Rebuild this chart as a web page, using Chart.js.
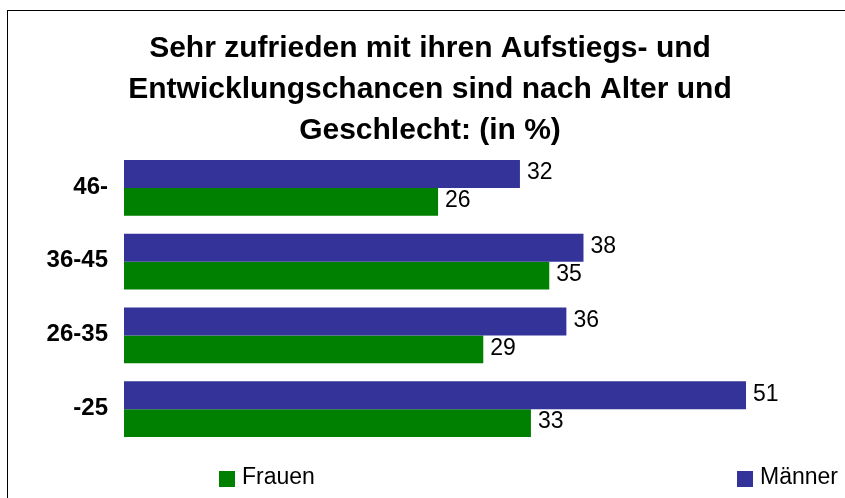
<!DOCTYPE html>
<html>
<head>
<meta charset="utf-8">
<script src="https://cdn.jsdelivr.net/npm/chart.js@4"></script>
<style>
  html, body { margin: 0; padding: 0; background: #fff; }
  #wrap { width: 845px; height: 498px; }
</style>
</head>
<body>
<div id="wrap"><canvas id="c" width="845" height="498"></canvas></div>
<script>
const ageGroups = ['46-', '36-45', '26-35', '-25'];
const maenner = [32.4, 37.6, 36.2, 50.9];
const frauen = [25.7, 34.8, 29.4, 33.3];
const titleLines = ['Sehr zufrieden mit ihren Aufstiegs- und', 'Entwicklungschancen sind nach Alter und', 'Geschlecht: (in %)'];

const FONT = "'Liberation Sans', Arial, Helvetica, sans-serif";

// frame, value labels and the wide legend at the bottom
const extras = {
    id: 'extras',
    beforeDraw(chart) {
        const ctx = chart.ctx;
        ctx.save();
        ctx.strokeStyle = '#000';
        ctx.lineWidth = 1;
        ctx.strokeRect(7.5, 10.5, 900, 600);
        ctx.restore();
    },
    afterDatasetsDraw(chart) {
        const ctx = chart.ctx;
        ctx.save();
        ctx.font = '23px ' + FONT;
        ctx.fillStyle = '#000';
        ctx.textBaseline = 'middle';
        ctx.textAlign = 'left';
        chart.data.datasets.forEach((ds, i) => {
            chart.getDatasetMeta(i).data.forEach((bar, j) => {
                ctx.fillText(Math.round(ds.data[j]).toString(), bar.x + 7, bar.y - 1);
            });
        });

        // legend: Frauen left, Männer right
        const items = [
            { label: chart.data.datasets[1].label, color: chart.data.datasets[1].backgroundColor, x: 219 },
            { label: chart.data.datasets[0].label, color: chart.data.datasets[0].backgroundColor, x: 737 }
        ];
        items.forEach(it => {
            ctx.fillStyle = it.color;
            ctx.fillRect(it.x, 471, 16, 16);
            ctx.fillStyle = '#000';
            ctx.fillText(it.label, it.x + 23, 478);
        });
        ctx.restore();
    }
};

new Chart(document.getElementById('c'), {
    type: 'bar',
    data: {
        labels: ageGroups,
        datasets: [
            { label: 'Männer', data: maenner, backgroundColor: '#333399' },
            { label: 'Frauen', data: frauen, backgroundColor: '#008000' }
        ]
    },
    options: {
        indexAxis: 'y',
        responsive: false,
        animation: false,
        categoryPercentage: 56 / 74,
        barPercentage: 1,
        layout: { padding: { left: 15, right: 0, top: 0, bottom: 52 } },
        scales: {
            x: { display: false, min: 0, max: 59 },
            y: {
                grid: { display: false },
                border: { display: false },
                ticks: {
                    color: '#000',
                    font: { family: FONT, size: 24, weight: 'bold' },
                    padding: 8,
                    labelOffset: -1
                },
                afterFit(scale) { scale.width = 109; }
            }
        },
        plugins: {
            legend: { display: false },
            tooltip: { enabled: false },
            title: {
                display: true,
                text: titleLines,
                color: '#000',
                font: { family: FONT, size: 30, weight: 'bold', lineHeight: '41px' },
                padding: { top: 28, bottom: 0 }
            }
        }
    },
    plugins: [extras]
});
</script>
</body>
</html>
